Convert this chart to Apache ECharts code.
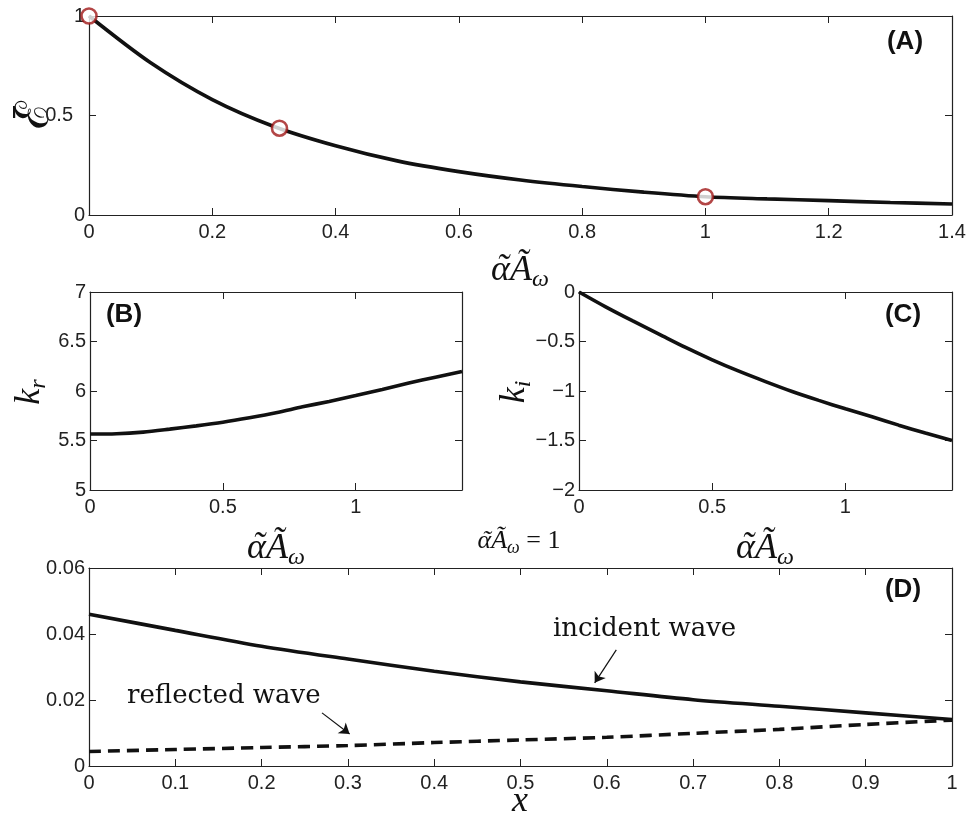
<!DOCTYPE html>
<html>
<head>
<meta charset="utf-8">
<script src="https://cdn.jsdelivr.net/npm/echarts@6/dist/echarts.min.js"></script>
<style>
html,body{margin:0;padding:0;background:#fff}
#main{width:972px;height:818px}
</style>
</head>
<body>
<div id="main"></div>
<script>
// panel A : energy vs alpha*A
var aX = [0, 0.1, 0.2, 0.3, 0.4, 0.5, 0.6, 0.7, 0.8, 0.9, 1.0, 1.1, 1.2, 1.3, 1.4];
var aE = [1, 0.765, 0.58, 0.445, 0.348, 0.272, 0.218, 0.176, 0.143, 0.115, 0.092, 0.081, 0.072, 0.063, 0.055];
var aMarkX = [0, 0.309, 1];
var aMarkY = [1, 0.436, 0.092];

// panel B / C : k_r and k_i
var bcX = [0, 0.1, 0.2, 0.3, 0.4, 0.5, 0.6, 0.7, 0.8, 0.9, 1.0, 1.1, 1.2, 1.3, 1.4];
var bKr = [5.565, 5.568, 5.585, 5.615, 5.648, 5.685, 5.73, 5.78, 5.84, 5.895, 5.954, 6.015, 6.08, 6.14, 6.197];
var cKi = [0, -0.15, -0.29, -0.425, -0.56, -0.685, -0.8, -0.905, -1.005, -1.095, -1.18, -1.26, -1.345, -1.425, -1.5];

// panel D : waves along x
var dX = [0, 0.1, 0.2, 0.3, 0.4, 0.5, 0.6, 0.7, 0.8, 0.9, 1.0];
var dInc = [0.046, 0.0411, 0.0363, 0.0324, 0.0287, 0.0255, 0.0228, 0.0201, 0.0181, 0.0161, 0.0141];
var dRef = [0.0044, 0.005, 0.0056, 0.0062, 0.0071, 0.0079, 0.0087, 0.0099, 0.0111, 0.0126, 0.0139];
var arrInc = [[0.611, 0.0352], [0.586, 0.0252]];
var arrRef = [[0.270, 0.0161], [0.302, 0.0097]];

var INK = '#111';
var AX = '#222';
var SANS = '"Liberation Sans", Arial, sans-serif';
var SERIF = '"Liberation Serif", "DejaVu Serif", serif';

function zip(xs, ys) {
    var out = [];
    for (var i = 0; i < xs.length; i++) out.push([xs[i], ys[i]]);
    return out;
}

function fmt(v) {
    return String(v).replace('-', '\u2212');
}

function xAx(grid, min, max, step, size, top, showMax) {
    return {
        type: 'value', gridIndex: grid, min: min, max: max, interval: step,
        position: top ? 'top' : 'bottom',
        axisLine: {show: true, onZero: false, lineStyle: {color: AX, width: 1.2}},
        axisTick: {show: true, inside: true, length: 7, lineStyle: {color: AX, width: 1}},
        axisLabel: {show: !top, showMaxLabel: showMax, fontSize: size, color: AX,
            fontFamily: SANS, margin: 7, formatter: fmt},
        splitLine: {show: false}
    };
}

function yAx(grid, min, max, step, size, right, lab) {
    return {
        type: 'value', gridIndex: grid, min: min, max: max, interval: step,
        position: right ? 'right' : 'left',
        axisLine: {show: true, onZero: false, lineStyle: {color: AX, width: 1.2}},
        axisTick: {show: true, inside: true, length: 7, lineStyle: {color: AX, width: 1}},
        axisLabel: lab || {show: !right, fontSize: size, color: AX, fontFamily: SANS, margin: 4, formatter: fmt},
        splitLine: {show: false}
    };
}

// measure text so math pieces can sit side by side
var mctx = document.createElement('canvas').getContext('2d');
function tw(font, s) {
    mctx.font = font;
    return mctx.measureText(s).width;
}

function txt(x, y, s, font, align) {
    return {
        type: 'text', x: x, y: y, silent: true,
        style: {text: s, font: font, fill: INK, align: align || 'left', verticalAlign: 'middle',
            textAlign: align || 'left', textVerticalAlign: 'middle'}
    };
}

// parts: [text, font, dy, accentDy]  (accentDy -> put a tilde over the piece)
function mathLabel(cx, cy, parts, rot) {
    var total = 0, i;
    for (i = 0; i < parts.length; i++) total += tw(parts[i][1], parts[i][0]);
    var pos = -total / 2;
    var kids = [];
    for (i = 0; i < parts.length; i++) {
        var w = tw(parts[i][1], parts[i][0]);
        kids.push(txt(pos, parts[i][2] || 0, parts[i][0], parts[i][1]));
        if (parts[i][3] != null) {
            kids.push(txt(pos + w / 2 + 2, parts[i][3], '\u02DC', parts[i][1], 'center'));
        }
        pos += w;
    }
    return {type: 'group', x: cx, y: cy, rotation: rot || 0, children: kids};
}

var BIG = 'italic 36px ' + SERIF;
var SUB = 'italic 24px ' + SERIF;
var MID = 'italic 26px ' + SERIF;
var MIDSUB = 'italic 18px ' + SERIF;

function alphaLabel(cx, cy) {
    return mathLabel(cx, cy, [['\u03B1', BIG, 0, -1], ['\u00C3', BIG, 0], ['\u03C9', SUB, 9]]);
}

var chart = echarts.init(document.getElementById('main'), null, {renderer: 'canvas'});

var option = {
    animation: false,
    backgroundColor: '#fff',
    grid: [
        {left: 89, top: 16, width: 863, height: 199, outerBoundsMode: 'none'},
        {left: 90, top: 292, width: 372, height: 198, outerBoundsMode: 'none'},
        {left: 579, top: 292, width: 373, height: 198, outerBoundsMode: 'none'},
        {left: 89, top: 568, width: 863, height: 198, outerBoundsMode: 'none'}
    ],
    xAxis: [
        xAx(0, 0, 1.4, 0.2, 20, false, true), xAx(0, 0, 1.4, 0.2, 20, true, true),
        xAx(1, 0, 1.4, 0.5, 20, false, false), xAx(1, 0, 1.4, 0.5, 20, true, false),
        xAx(2, 0, 1.4, 0.5, 20, false, false), xAx(2, 0, 1.4, 0.5, 20, true, false),
        xAx(3, 0, 1, 0.1, 20, false, true), xAx(3, 0, 1, 0.1, 20, true, true)
    ],
    yAxis: [
        yAx(0, 0, 1, 0.5, 20, false, {
            show: true, fontSize: 20, color: AX, fontFamily: SANS, margin: 4,
            formatter: function (v) { return v === 0.5 ? '{p|0.5}' : String(v); },
            rich: {p: {fontSize: 20, color: AX, fontFamily: SANS, padding: [0, 12, 0, 0]}}
        }),
        yAx(0, 0, 1, 0.5, 20, true),
        yAx(1, 5, 7, 0.5, 20, false), yAx(1, 5, 7, 0.5, 20, true),
        yAx(2, -2, 0, 0.5, 20, false), yAx(2, -2, 0, 0.5, 20, true),
        yAx(3, 0, 0.06, 0.02, 20, false), yAx(3, 0, 0.06, 0.02, 20, true)
    ],
    series: [
        {
            type: 'line', xAxisIndex: 0, yAxisIndex: 0, data: zip(aX, aE),
            smooth: 0.3, symbol: 'none',
            lineStyle: {color: INK, width: 3.6}, z: 2
        },
        {
            type: 'scatter', xAxisIndex: 0, yAxisIndex: 0, data: zip(aMarkX, aMarkY),
            symbol: 'circle', symbolSize: 15,
            itemStyle: {color: '#fff', borderColor: '#a01818', borderWidth: 2.6}, z: 5
        },
        {
            type: 'line', xAxisIndex: 2, yAxisIndex: 2, data: zip(bcX, bKr),
            smooth: 0.3, symbol: 'none',
            lineStyle: {color: INK, width: 3.6}
        },
        {
            type: 'line', xAxisIndex: 4, yAxisIndex: 4, data: zip(bcX, cKi),
            smooth: 0.3, symbol: 'none',
            lineStyle: {color: INK, width: 3.6}
        },
        {
            type: 'line', xAxisIndex: 6, yAxisIndex: 6, data: zip(dX, dInc),
            smooth: 0.3, symbol: 'none',
            lineStyle: {color: INK, width: 3.6},
            markLine: {
                silent: true, animation: false,
                symbol: ['none', 'arrow'], symbolSize: 10,
                label: {show: false},
                lineStyle: {type: 'solid', color: INK, width: 1.2},
                data: [
                    [{coord: arrInc[0]}, {coord: arrInc[1]}],
                    [{coord: arrRef[0]}, {coord: arrRef[1]}]
                ]
            }
        },
        {
            type: 'line', xAxisIndex: 6, yAxisIndex: 6, data: zip(dX, dRef),
            smooth: 0.3, symbol: 'none',
            lineStyle: {color: INK, width: 3.6, type: [12, 7]}
        }
    ],
    graphic: [
        // panel tags
        txt(905, 42, '(A)', 'bold 26px ' + SANS, 'center'),
        txt(124, 315, '(B)', 'bold 26px ' + SANS, 'center'),
        txt(903, 315, '(C)', 'bold 26px ' + SANS, 'center'),
        txt(903, 590, '(D)', 'bold 26px ' + SANS, 'center'),
        // axis titles
        alphaLabel(520, 271),
        alphaLabel(276, 549),
        alphaLabel(765, 549),
        mathLabel(519, 541, [['\u03B1', MID, 0, 0], ['\u00C3', MID, 0], ['\u03C9', MIDSUB, 7], [' = 1', '26px ' + SERIF, 0]]),
        mathLabel(520, 802, [['x', BIG, 0]]),
        {
            type: 'group', x: 36, y: 115, rotation: Math.PI / 2,
            children: [
                txt(0, 0, '\u2130', '46px "DejaVu Serif", serif', 'center'),
                {type: 'rect', shape: {x: -3, y: -23, width: 12, height: 2.2}, style: {fill: INK}, silent: true}
            ]
        },
        mathLabel(30, 392, [['k', BIG, 0], ['r', SUB, 9]], Math.PI / 2),
        mathLabel(515, 392, [['k', BIG, 0], ['i', SUB, 9]], Math.PI / 2),
        // annotations
        txt(553, 629, 'incident wave', '26px "DejaVu Serif", serif'),
        txt(127, 696, 'reflected wave', '26px "DejaVu Serif", serif')
    ]
};

chart.setOption(option);
</script>
</body>
</html>
